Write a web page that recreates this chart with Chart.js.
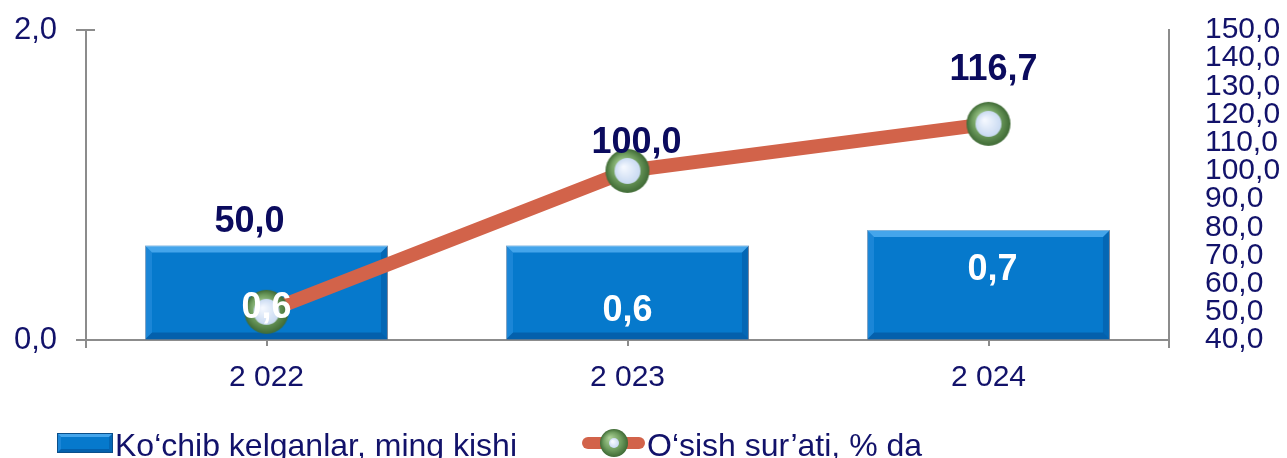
<!DOCTYPE html>
<html>
<head>
<meta charset="utf-8">
<script src="https://cdn.jsdelivr.net/npm/chart.js@4.4.1/dist/chart.umd.min.js"></script>
<style>
  html, body { margin: 0; padding: 0; background: #fff; }
  #wrap { width: 1287px; height: 458px; }
</style>
</head>
<body>
<div id="wrap"><canvas id="chart" width="1287" height="458"></canvas></div>
<script>
// --- data ---
const years = ['2 022', '2 023', '2 024'];
const arrivals = [0.61, 0.61, 0.71];     // Ko'chib kelganlar, ming kishi
const growth = [50.0, 100.0, 116.7];     // O'sish sur'ati, % da
const leftRange = [0, 2];
const rightRange = [40, 150];

// label nudges (px) relative to the element they belong to
const barLabelShift = [[0, 73], [0, 76], [4, 50]];
const lineLabelShift = [[-17, -80], [9, -18], [5, -44]];

const FONT = '"Liberation Sans", Arial, sans-serif';
const NAVY = '#12126a';
const AXIS = '#8c8c8c';
const BAR_BLUE = '#0679cc';
const LINE_RED = '#d2634a';
const fmt = v => v.toFixed(1).replace('.', ',');

// green ring marker with a pale centre, drawn once and reused as pointStyle
function makeMarker(outer, inner) {
    const c = document.createElement('canvas');
    c.width = c.height = outer * 2 + 2;
    const g = c.getContext('2d');
    const m = outer + 1;
    let grad = g.createRadialGradient(m - outer * 0.3, m - outer * 0.35, 1, m, m, outer);
    grad.addColorStop(0, '#a9cf95');
    grad.addColorStop(0.6, '#6f9d5f');
    grad.addColorStop(1, '#3f6a35');
    g.beginPath();
    g.arc(m, m, outer, 0, Math.PI * 2);
    g.fillStyle = grad;
    g.fill();
    grad = g.createRadialGradient(m - inner * 0.3, m - inner * 0.3, 1, m, m, inner);
    grad.addColorStop(0, '#f4f8ff');
    grad.addColorStop(1, '#c9daf2');
    g.beginPath();
    g.arc(m, m, inner, 0, Math.PI * 2);
    g.fillStyle = grad;
    g.fill();
    return c;
}

// draw a bevelled box like the office style bars
function bevel(ctx, l, t, r, bt, b) {
    const side = (pts, color) => {
        ctx.beginPath();
        ctx.moveTo(pts[0], pts[1]);
        for (let i = 2; i < pts.length; i += 2) ctx.lineTo(pts[i], pts[i + 1]);
        ctx.closePath();
        ctx.fillStyle = color;
        ctx.fill();
    };
    side([l, t, r, t, r - b, t + b, l + b, t + b], 'rgba(110,195,255,0.6)');
    side([l, t, l + b, t + b, l + b, bt - b, l, bt], 'rgba(70,160,235,0.35)');
    side([r, t, r, bt, r - b, bt - b, r - b, t + b], 'rgba(0,40,100,0.22)');
    side([l, bt, l + b, bt - b, r - b, bt - b, r, bt], 'rgba(0,40,100,0.3)');
}

const bevelPlugin = {
    id: 'bevel',
    afterDatasetDraw(chart, args) {
        if (args.index !== 0) return;
        const ctx = chart.ctx;
        ctx.save();
        args.meta.data.forEach(bar => {
            const l = bar.x - bar.width / 2, r = bar.x + bar.width / 2;
            bevel(ctx, l, bar.y, r, bar.base, 7);
        });
        ctx.restore();
    }
};

const labelPlugin = {
    id: 'valueLabels',
    afterDatasetsDraw(chart) {
        const ctx = chart.ctx;
        ctx.save();
        ctx.textAlign = 'center';
        ctx.textBaseline = 'alphabetic';
        ctx.font = 'bold 36px ' + FONT;
        chart.getDatasetMeta(1).data.forEach((pt, i) => {
            ctx.fillStyle = '#0b0b5e';
            ctx.fillText(fmt(growth[i]), pt.x + lineLabelShift[i][0], pt.y + lineLabelShift[i][1]);
        });
        chart.getDatasetMeta(0).data.forEach((bar, i) => {
            ctx.fillStyle = '#ffffff';
            ctx.fillText(fmt(arrivals[i]), bar.x + barLabelShift[i][0], bar.y + barLabelShift[i][1]);
        });
        ctx.restore();
    }
};

// tick marks crossing the left axis, axes running a little below, and the legend
const extrasPlugin = {
    id: 'extras',
    afterDraw(chart) {
        const ctx = chart.ctx;
        const a = chart.chartArea;
        const yScale = chart.scales.y;
        ctx.save();
        ctx.strokeStyle = AXIS;
        ctx.lineWidth = 2;
        [a.left, a.right].forEach(x => {
            ctx.beginPath();
            ctx.moveTo(x, a.bottom);
            ctx.lineTo(x, a.bottom + 8);
            ctx.stroke();
        });
        yScale.ticks.forEach(t => {
            const py = Math.round(yScale.getPixelForValue(t.value));
            ctx.beginPath();
            ctx.moveTo(a.left - 10, py);
            ctx.lineTo(a.left + 9, py);
            ctx.stroke();
        });

        // legend: bar item
        ctx.fillStyle = BAR_BLUE;
        ctx.fillRect(57, 433, 56, 20);
        bevel(ctx, 57, 433, 113, 453, 4);
        ctx.strokeStyle = '#0a4f8a';
        ctx.lineWidth = 1;
        ctx.strokeRect(57.5, 433.5, 55, 19);

        ctx.font = '32px ' + FONT;
        ctx.fillStyle = NAVY;
        ctx.textBaseline = 'alphabetic';
        ctx.textAlign = 'left';
        ctx.fillText('Ko\u2018chib kelganlar, ming kishi', 115, 456);

        // legend: line item
        ctx.strokeStyle = LINE_RED;
        ctx.lineWidth = 12;
        ctx.lineCap = 'round';
        ctx.beginPath();
        ctx.moveTo(588, 443);
        ctx.lineTo(639, 443);
        ctx.stroke();
        ctx.drawImage(makeMarker(14, 5), 614 - 15, 443 - 15);
        ctx.fillStyle = NAVY;
        ctx.fillText('O\u2018sish sur\u2019ati, % da', 647, 456);
        ctx.restore();
    }
};

// keep the tick labels from pushing the plot area down
const fixAxis = width => s => {
    s.width = width;
    s.paddingTop = 0;
    s.paddingBottom = 0;
};

window.onload = () => {
    const ctx = document.getElementById('chart').getContext('2d');
    new Chart(ctx, {
        data: {
            labels: years,
            datasets: [{
                type: 'bar',
                label: 'Ko\u2018chib kelganlar, ming kishi',
                data: arrivals,
                yAxisID: 'y',
                backgroundColor: BAR_BLUE,
                borderColor: 'rgba(110,120,140,0.7)',
                borderWidth: 1,
                categoryPercentage: 1,
                barPercentage: 0.673,
                order: 1
            }, {
                type: 'line',
                label: 'O\u2018sish sur\u2019ati, % da',
                data: growth,
                yAxisID: 'y1',
                borderColor: LINE_RED,
                borderWidth: 14,
                pointStyle: makeMarker(22, 13),
                pointRadius: 22,
                tension: 0,
                order: 0
            }]
        },
        options: {
            responsive: false,
            animation: false,
            devicePixelRatio: 1,
            // autoPadding would reserve room for the big markers and shrink the plot
            layout: { autoPadding: false, padding: { top: 30, left: 0, right: 0, bottom: 0 } },
            plugins: { legend: { display: false }, tooltip: { enabled: false } },
            scales: {
                x: {
                    grid: { offset: false, drawOnChartArea: false, drawTicks: true, tickLength: 6, color: AXIS, lineWidth: 2 },
                    border: { color: AXIS, width: 2 },
                    ticks: { color: NAVY, font: { family: FONT, size: 30 }, padding: 14 },
                    afterFit: s => { s.height = 118; }
                },
                y: {
                    position: 'left',
                    min: leftRange[0],
                    max: leftRange[1],
                    // invisible tick length only spaces the labels; real ticks come from the plugin
                    grid: { drawOnChartArea: false, drawTicks: true, tickLength: 29, tickColor: 'rgba(0,0,0,0)' },
                    border: { color: AXIS, width: 2 },
                    ticks: { stepSize: 2, color: NAVY, font: { family: FONT, size: 31 }, padding: 0, callback: v => fmt(v) },
                    afterFit: fixAxis(86)
                },
                y1: {
                    position: 'right',
                    min: rightRange[0],
                    max: rightRange[1],
                    grid: { drawOnChartArea: false, drawTicks: true, tickLength: 36, tickColor: 'rgba(0,0,0,0)' },
                    border: { display: true, color: AXIS, width: 2 },
                    ticks: { stepSize: 10, color: NAVY, font: { family: FONT, size: 30 }, padding: 0, autoSkip: false, callback: v => fmt(v) },
                    afterFit: fixAxis(118)
                }
            }
        },
        plugins: [bevelPlugin, labelPlugin, extrasPlugin]
    });
};
</script>
</body>
</html>
